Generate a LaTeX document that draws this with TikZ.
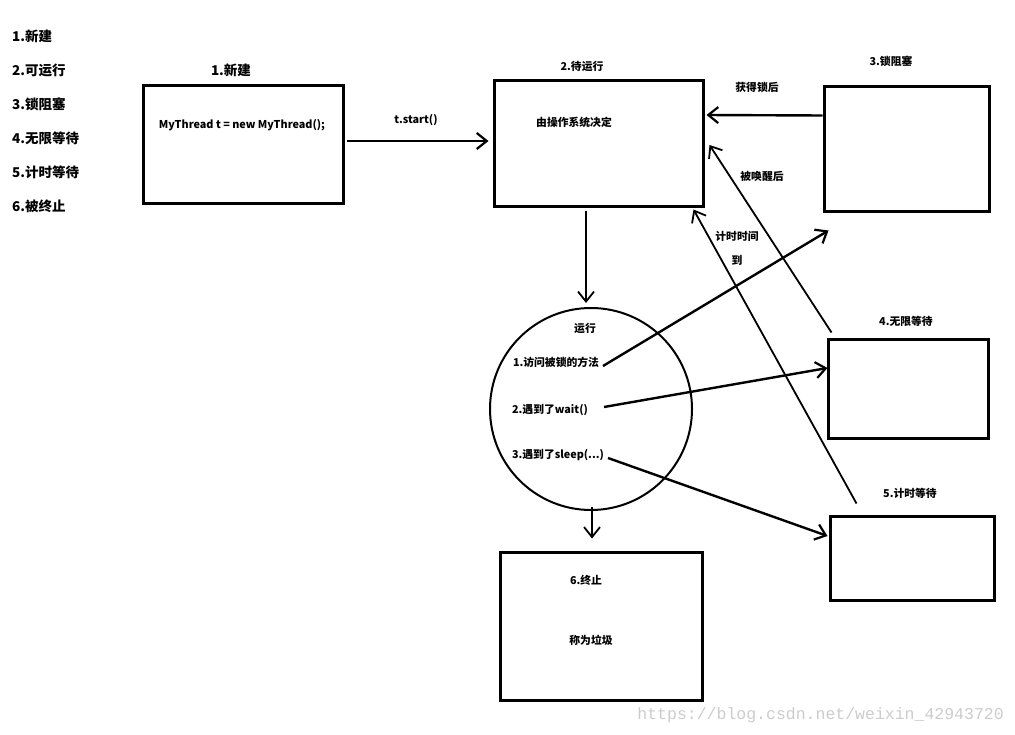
\documentclass[tikz,border=0pt]{standalone}
\usepackage{fontspec}
\setmainfont{Noto Sans CJK SC}
\newfontfamily\wmfont{Liberation Mono}
\usetikzlibrary{arrows.meta,calc}
\begin{document}
\begin{tikzpicture}[x=1pt,y=-1pt,
  box/.style={draw,line width=3pt,rectangle,inner sep=0pt},
  lbl/.style={font=\fontsize{10.8}{12}\selectfont\bfseries,inner sep=0pt},
  biglbl/.style={font=\fontsize{13.5}{16}\selectfont\bfseries,inner sep=0pt},
  conn/.style={line width=2.4pt,-{Straight Barb[length=10pt,width=16pt,line width=2.2pt]}},
  thin/.style={line width=1.8pt,-{Straight Barb[length=10pt,width=16pt,line width=1.8pt]}}]
\useasboundingbox (0,0) rectangle (1015,735);
% legend
\node[biglbl,anchor=west] (l1) at (12,36) {1.新建};
\node[biglbl,anchor=west] (l2) at (12,70) {2.可运行};
\node[biglbl,anchor=west] (l3) at (12,104) {3.锁阻塞};
\node[biglbl,anchor=west] (l4) at (12,138) {4.无限等待};
\node[biglbl,anchor=west] (l5) at (12,172) {5.计时等待};
\node[biglbl,anchor=west] (l6) at (12,206) {6.被终止};
% boxes
\node[box,minimum width=200pt,minimum height=118pt] (b1) at (243,145) {};
\node[box,minimum width=209pt,minimum height=126pt] (b2) at (598.5,144) {};
\node[box,minimum width=165pt,minimum height=125pt] (b3) at (906.5,149.5) {};
\node[box,minimum width=160pt,minimum height=98pt] (b4) at (908,389) {};
\node[box,minimum width=164pt,minimum height=84pt] (b5) at (912,558) {};
\node[box,minimum width=202pt,minimum height=148pt] (b6) at (601,626) {};
\node[draw,circle,line width=2pt,minimum size=202pt,inner sep=0pt] (c) at (591,409) {};
% labels
\node[biglbl] (h1) at (231,70) {1.新建};
\node[lbl] (m1) at (242,125) {MyThread t = new MyThread();};
\node[lbl] (h2) at (582,66) {2.待运行};
\node[lbl] (m2) at (574,122) {由操作系统决定};
\node[lbl] (h3) at (891,61) {3.锁阻塞};
\node[lbl] (h4) at (906,321) {4.无限等待};
\node[lbl] (h5) at (910,493) {5.计时等待};
\node[lbl] (h6) at (586,580) {6.终止};
\node[lbl] (m6) at (591,640) {称为垃圾};
\node[lbl] (cr) at (585,328) {运行};
\node[lbl] (t1) at (556,362) {1.访问被锁的方法};
\node[lbl] (t2) at (550,410) {2.遇到了wait()};
\node[lbl] (t3) at (558,455) {3.遇到了sleep(...)};
\node[lbl] (e0) at (416,120) {t.start()};
\node[lbl] (e1) at (757,87) {获得锁后};
\node[lbl] (e2) at (762,176) {被唤醒后};
\node[lbl] (e3) at (737,236) {计时时间};
\node[lbl] (e3b) at (737,260) {到};
\node[font=\wmfont\fontsize{16.5}{18}\selectfont,text=black!20,anchor=east,inner sep=0pt] (wm) at (1004,715) {https://blog.csdn.net/weixin\_42943720};
% connectors
\coordinate (s1) at ($(c.center)+(12,-43)$);
\coordinate (s2) at ($(c.center)+(13,-2)$);
\coordinate (s3) at ($(c.center)+(17,49)$);
\draw[conn,shorten >=4pt] ($(b1.east)+(2,-4)$) -- ($(b2.west)+(0,-3)$);
\draw[thin,shorten >=4pt] (c.north |- b2.south) ++(-5,3) -- ($(c.north)+(-5,0)$);
\draw[thin,shorten >=12pt] ($(c.south)+(1,-4)$) -- ($(b6.north)+(-9,0)$);
\draw[conn,shorten >=2pt] ($(b3.west)+(0,-34)$) -- ($(b2.east)+(0,-29)$);
\draw[thin] ($(b4.north west)+(5,-6)$) -- ($(b2.east)+(5,1)$);
\draw[thin] ($(b5.north west)+(28,-11)$) -- ($(b2.south east)+(-11,1)$);
\draw[conn] (s1) -- ($(b3.south west)+(6,17)$);
\draw[conn] (s2) -- ($(b4.west)+(1,-21)$);
\draw[conn] (s3) -- ($(b5.west)+(-1,-22)$);
\end{tikzpicture}
\end{document}
